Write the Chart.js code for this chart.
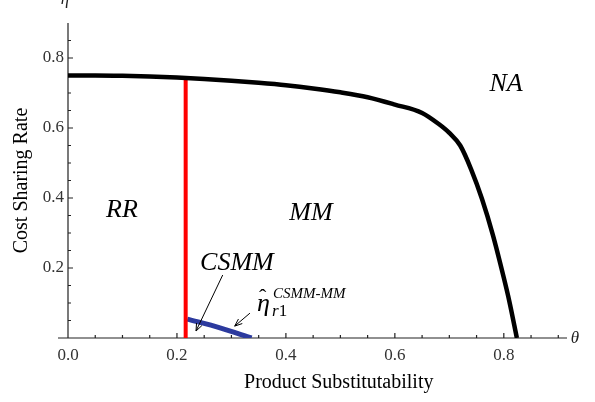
<!DOCTYPE html>
<html>
<head>
<meta charset="utf-8">
<script src="https://cdn.jsdelivr.net/npm/chart.js@4.4.0/dist/chart.umd.min.js"></script>
<style>
  html, body { margin: 0; padding: 0; background: #fff; }
</style>
</head>
<body>
<canvas id="chart" width="595" height="402"></canvas>
<script>
// region boundaries (theta -> eta)
const naTheta = [0, 0.05, 0.1, 0.15, 0.2, 0.25, 0.3, 0.35, 0.4, 0.45, 0.5, 0.55, 0.6, 0.65, 0.68, 0.7, 0.72, 0.74, 0.76, 0.78, 0.8, 0.81, 0.824];
const naEta   = [0.75, 0.75, 0.749, 0.747, 0.744, 0.74, 0.735, 0.729, 0.722, 0.713, 0.702, 0.688, 0.667, 0.643, 0.612, 0.586, 0.55, 0.482, 0.397, 0.294, 0.172, 0.106, 0];
const rrTheta = [0.216, 0.216];
const rrEta   = [0, 0.745];
const csTheta = [0.219, 0.279, 0.337];
const csEta   = [0.054, 0.029, 0];

const xTicks = [0, 0.2, 0.4, 0.6, 0.8];
const yTicks = [0.2, 0.4, 0.6, 0.8];
const xMinor = [0.05, 0.1, 0.15, 0.25, 0.3, 0.35, 0.45, 0.5, 0.55, 0.65, 0.7, 0.75, 0.85, 0.9];
const yMinor = [0.05, 0.1, 0.15, 0.25, 0.3, 0.35, 0.45, 0.5, 0.55, 0.65, 0.7, 0.75, 0.85];

const serif = '"Liberation Serif", "Times New Roman", serif';

const toPoints = (xs, ys) => xs.map((x, i) => ({ x: x, y: ys[i] }));

function arrow(ctx, from, to) {
  const a = Math.atan2(to.y - from.y, to.x - from.x);
  const len = 8, spread = 0.38;
  ctx.beginPath();
  ctx.moveTo(from.x, from.y);
  ctx.lineTo(to.x, to.y);
  ctx.moveTo(to.x - len * Math.cos(a - spread), to.y - len * Math.sin(a - spread));
  ctx.lineTo(to.x, to.y);
  ctx.lineTo(to.x - len * Math.cos(a + spread), to.y - len * Math.sin(a + spread));
  ctx.stroke();
}

// Mathematica style axes: lines through the origin, ticks pointing inwards
const axesPlugin = {
  id: 'axes',
  beforeDatasetsDraw(chart) {
    const { ctx, chartArea, scales: { x, y } } = chart;
    const x0 = x.getPixelForValue(0), y0 = y.getPixelForValue(0);
    ctx.save();
    ctx.strokeStyle = '#222';
    ctx.lineWidth = 1.2;
    ctx.beginPath();
    ctx.moveTo(chartArea.left - 10, y0);
    ctx.lineTo(chartArea.right, y0);
    ctx.moveTo(x0, y0);
    ctx.lineTo(x0, chartArea.top);
    xTicks.forEach(v => { const px = x.getPixelForValue(v); ctx.moveTo(px, y0); ctx.lineTo(px, y0 - 5); });
    xMinor.forEach(v => { const px = x.getPixelForValue(v); ctx.moveTo(px, y0); ctx.lineTo(px, y0 - 3); });
    yTicks.forEach(v => { const py = y.getPixelForValue(v); ctx.moveTo(x0, py); ctx.lineTo(x0 + 5, py); });
    yMinor.forEach(v => { const py = y.getPixelForValue(v); ctx.moveTo(x0, py); ctx.lineTo(x0 + 3, py); });
    ctx.stroke();
    ctx.restore();
  },
  afterDatasetsDraw(chart) {
    const { ctx, chartArea, scales: { x, y } } = chart;
    const p = (a, b) => ({ x: x.getPixelForValue(a), y: y.getPixelForValue(b) });
    ctx.save();
    ctx.fillStyle = '#000';
    ctx.textAlign = 'center';
    ctx.textBaseline = 'middle';
    ctx.font = 'italic 26px ' + serif;
    [['RR', 0.099, 0.366], ['MM', 0.446, 0.357], ['NA', 0.804, 0.726], ['CSMM', 0.31, 0.214]].forEach(([t, a, b]) => {
      const q = p(a, b);
      ctx.fillText(t, q.x, q.y);
    });

    // eta-hat with sub/superscripts
    const e = p(0.347, 0.077);
    ctx.textAlign = 'left';
    ctx.textBaseline = 'alphabetic';
    ctx.font = 'italic 26px ' + serif;
    ctx.fillText('η', e.x, e.y);
    ctx.font = '22px ' + serif;
    ctx.fillText('ˆ', e.x + 2, e.y - 7);
    ctx.font = 'italic 15px ' + serif;
    ctx.fillText('CSMM-MM', e.x + 16, e.y - 13);
    ctx.font = 'italic 17px ' + serif;
    ctx.fillText('r', e.x + 15, e.y + 5);
    const rw = ctx.measureText('r').width;
    ctx.font = '17px ' + serif;
    ctx.fillText('1', e.x + 15 + rw, e.y + 5);

    ctx.strokeStyle = '#000';
    ctx.lineWidth = 1;
    arrow(ctx, p(0.284, 0.18), p(0.235, 0.02));
    arrow(ctx, p(0.334, 0.071), p(0.306, 0.034));

    // axis symbols and x title
    ctx.fillStyle = '#222';
    ctx.font = 'italic 17px ' + serif;
    ctx.textAlign = 'center';
    ctx.textBaseline = 'middle';
    ctx.fillText('θ', chartArea.right + 8, y.getPixelForValue(0) + 1);
    ctx.fillText('η', x.getPixelForValue(0) - 3, 0);
    ctx.fillStyle = '#000';
    ctx.font = '20px ' + serif;
    ctx.textBaseline = 'alphabetic';
    ctx.fillText('Product Substitutability', x.getPixelForValue(0.497), chart.height - 14);
    ctx.restore();
  }
};

const ctx = document.getElementById('chart').getContext('2d');
new Chart(ctx, {
  type: 'scatter',
  data: {
    datasets: [
      {
        label: 'NA boundary',
        data: toPoints(naTheta, naEta),
        showLine: true,
        borderColor: '#000',
        borderWidth: 4.5,
        pointRadius: 0,
        cubicInterpolationMode: 'monotone'
      },
      {
        label: 'RR boundary',
        data: toPoints(rrTheta, rrEta),
        showLine: true,
        borderColor: '#ff0000',
        borderWidth: 4,
        pointRadius: 0
      },
      {
        label: 'CSMM-MM boundary',
        data: toPoints(csTheta, csEta),
        showLine: true,
        borderColor: '#2c3a9e',
        borderWidth: 5,
        pointRadius: 0,
        cubicInterpolationMode: 'monotone'
      }
    ]
  },
  options: {
    responsive: false,
    animation: false,
    layout: { padding: { top: 23, right: 28, bottom: 0, left: 0 } },
    plugins: {
      legend: { display: false },
      tooltip: { enabled: false }
    },
    scales: {
      x: {
        type: 'linear',
        min: 0,
        max: 0.916,
        afterBuildTicks: s => { s.ticks = xTicks.map(v => ({ value: v })); },
        afterFit: s => { s.height = 64; },
        grid: { display: false, drawTicks: false },
        border: { display: false },
        ticks: {
          color: '#333',
          font: { family: serif, size: 17 },
          padding: 7,
          maxRotation: 0,
          autoSkip: false,
          callback: v => v.toFixed(1)
        }
      },
      y: {
        min: 0,
        max: 0.9,
        afterBuildTicks: s => { s.ticks = yTicks.map(v => ({ value: v })); },
        afterFit: s => { s.width = 68; },
        grid: { display: false, drawTicks: false },
        border: { display: false },
        ticks: {
          color: '#333',
          font: { family: serif, size: 17 },
          padding: 4,
          callback: v => v.toFixed(1)
        },
        title: {
          display: true,
          text: 'Cost Sharing Rate',
          color: '#000',
          font: { family: serif, size: 20 },
          padding: { top: 10, bottom: 0 }
        }
      }
    }
  },
  plugins: [axesPlugin]
});
</script>
</body>
</html>
